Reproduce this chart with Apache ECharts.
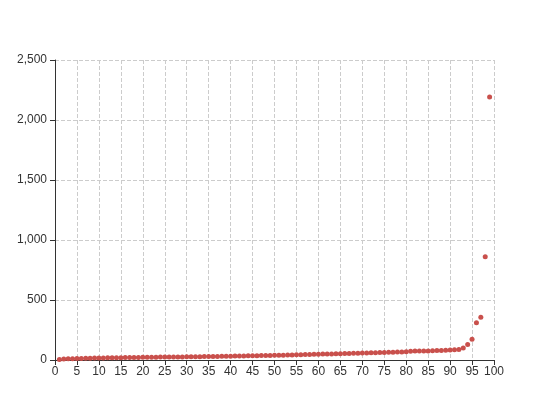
<!DOCTYPE html>
<html>
<head>
<meta charset="utf-8">
<script src="https://cdn.jsdelivr.net/npm/echarts@6/dist/echarts.min.js"></script>
<style>html,body{margin:0;padding:0;background:#fff}#c{width:550px;height:420px}</style>
</head>
<body>
<div id="c"></div>
<script>
const xValues = [];
for (let i = 1; i <= 99; i++) xValues.push(i);
const yValues = [
  5, 8, 10, 11, 12, 13, 14, 15, 16, 17,
  17, 18, 18, 19, 19, 20, 20, 21, 21, 22,
  22, 23, 23, 24, 24, 25, 25, 26, 26, 27,
  27, 28, 28, 29, 29, 30, 30, 31, 32, 32,
  33, 33, 34, 35, 35, 36, 37, 37, 38, 39,
  40, 40, 41, 42, 43, 44, 45, 46, 47, 48,
  49, 50, 51, 52, 53, 54, 55, 56, 57, 58,
  59, 60, 61, 62, 63, 64, 65, 66, 67, 69,
  72, 74, 75, 76, 76, 78, 79, 80, 82, 84,
  86, 88, 100, 130, 172, 311, 356, 861, 2192
];
const points = xValues.map((x, i) => [x, yValues[i]]);
const chart = echarts.init(document.getElementById('c'));
const axisFont = { color: '#333', fontSize: 12, fontFamily: 'Liberation Sans, Arial, sans-serif' };
chart.setOption({
  animation: false,
  grid: { left: 55, right: 56, top: 60, bottom: 60 },
  xAxis: {
    type: 'value', min: 0, max: 100, interval: 5,
    axisLine: { show: true, lineStyle: { color: '#333' } },
    axisTick: { show: true, lineStyle: { color: '#333' } },
    axisLabel: Object.assign({ margin: 6 }, axisFont),
    splitLine: { show: true, lineStyle: { type: 'dashed', color: '#ccc' } }
  },
  yAxis: {
    type: 'value', min: 0, max: 2500, interval: 500,
    axisLine: { show: true, lineStyle: { color: '#333' } },
    axisTick: { show: true, lineStyle: { color: '#333' } },
    axisLabel: Object.assign({ margin: 8 }, axisFont),
    splitLine: { show: true, lineStyle: { type: 'dashed', color: '#ccc' } }
  },
  series: [{
    type: 'scatter',
    data: points,
    symbolSize: 5,
    itemStyle: { color: '#c9504c', opacity: 1 }
  }]
});
</script>
</body>
</html>
